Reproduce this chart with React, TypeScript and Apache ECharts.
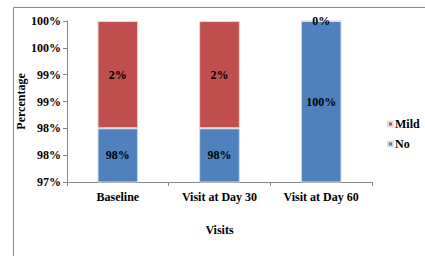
import React, { useEffect, useRef } from "react";
import * as echarts from "echarts";

const categories = ["Baseline", "Visit at Day 30", "Visit at Day 60"];
const noValues = [98, 98, 100];
const mildValues = [2, 2, 0];
const yMin = 97;
const yMax = 100;
const yStep = 0.5;

const FONT = "'Liberation Serif', 'Times New Roman', serif";

export default function App() {
  const ref = useRef<HTMLDivElement>(null);
  useEffect(() => {
    if (!ref.current) return;
    const chart = echarts.init(ref.current, undefined, { renderer: "svg" });
    const labelStyle = {
      show: true,
      position: "inside" as const,
      formatter: (p: any) => p.value + "%",
      color: "#000",
      fontFamily: FONT,
      fontWeight: "bold" as const,
      fontSize: 12,
    };
    chart.setOption({
      animation: false,
      backgroundColor: "#fff",
      textStyle: { fontFamily: FONT },
      grid: { left: 67, right: 53, top: 21, bottom: 74, containLabel: false },
      legend: {
        orient: "vertical",
        left: 382,
        top: 113,
        itemWidth: 5,
        itemHeight: 5,
        itemGap: 8,
        icon: "rect",
        data: ["Mild", "No"],
        textStyle: { fontFamily: FONT, fontWeight: "bold", fontSize: 12, color: "#000", padding: [0, 0, 0, -3] },
      },
      xAxis: {
        type: "category",
        data: categories,
        name: "Visits",
        nameLocation: "middle",
        nameGap: 42,
        nameMoveOverlap: false,
        nameTextStyle: { fontFamily: FONT, fontWeight: "bold", fontSize: 12, color: "#000" },
        axisLine: { lineStyle: { color: "#868686", width: 1 } },
        axisTick: { show: true, length: 4, lineStyle: { color: "#868686" } },
        axisLabel: { fontFamily: FONT, fontWeight: "bold", fontSize: 12, color: "#000", margin: 9 },
      },
      yAxis: {
        type: "value",
        min: yMin,
        max: yMax,
        interval: yStep,
        name: "Percentage",
        nameLocation: "middle",
        nameGap: 40,
        nameMoveOverlap: false,
        nameTextStyle: { fontFamily: FONT, fontWeight: "bold", fontSize: 12, color: "#000" },
        axisLine: { show: true, lineStyle: { color: "#868686", width: 1 } },
        axisTick: { show: true, length: 4, lineStyle: { color: "#868686" } },
        splitLine: { show: false },
        axisLabel: {
          fontFamily: FONT,
          fontWeight: "bold",
          fontSize: 12,
          color: "#000",
          margin: 6,
          formatter: (v: number) => Math.round(v) + "%",
        },
      },
      series: [
        {
          name: "No",
          type: "bar",
          stack: "total",
          barWidth: "40%",
          data: noValues,
          itemStyle: { color: "#4F81BD", borderColor: "#d8dde6", borderWidth: 1 },
          label: labelStyle,
        },
        {
          name: "Mild",
          type: "bar",
          stack: "total",
          barWidth: "40%",
          data: mildValues,
          itemStyle: { color: "#C0504D", borderColor: "#e6dada", borderWidth: 1 },
          label: labelStyle,
        },
      ],
      graphic: [
        {
          type: "polyline",
          shape: { points: [[13.5, 256], [13.5, 7.5], [425, 7.5]] },
          style: { stroke: "#888", lineWidth: 1, fill: "none" },
        },
      ],
    });
    return () => chart.dispose();
  }, []);
  return <div ref={ref} style={{ width: 425, height: 256, position: "fixed", left: 0, top: 0 }} />;
}
